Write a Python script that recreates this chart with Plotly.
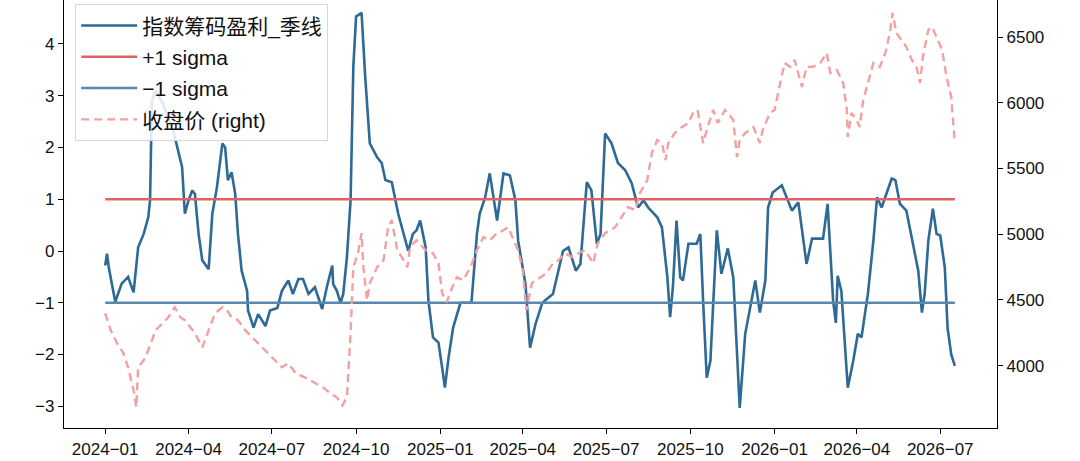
import plotly.graph_objects as go

# 指数筹码盈利_季线 (left axis)
profit_dates = [
    '2024-01-01', '2024-01-03', '2024-01-05', '2024-01-12', '2024-01-19', '2024-01-26',
    '2024-02-01', '2024-02-06', '2024-02-12', '2024-02-17', '2024-02-19', '2024-02-21',
    '2024-02-25', '2024-02-27', '2024-03-04', '2024-03-15', '2024-03-25', '2024-03-28',
    '2024-04-01', '2024-04-05', '2024-04-08', '2024-04-12', '2024-04-16', '2024-04-23',
    '2024-04-27', '2024-05-02', '2024-05-08', '2024-05-11', '2024-05-14', '2024-05-18',
    '2024-05-22', '2024-05-25', '2024-05-29', '2024-06-04', '2024-06-05', '2024-06-11',
    '2024-06-16', '2024-06-24', '2024-06-29', '2024-07-07', '2024-07-12', '2024-07-19',
    '2024-07-24', '2024-07-30', '2024-08-04', '2024-08-10', '2024-08-17', '2024-08-25',
    '2024-08-30', '2024-09-05', '2024-09-06', '2024-09-10', '2024-09-14', '2024-09-17',
    '2024-09-21', '2024-09-25', '2024-09-28', '2024-10-01', '2024-10-07', '2024-10-11',
    '2024-10-16', '2024-10-24', '2024-10-29', '2024-11-02', '2024-11-09', '2024-11-16',
    '2024-11-27', '2024-12-02', '2024-12-06', '2024-12-10', '2024-12-16', '2024-12-19',
    '2024-12-24', '2024-12-30', '2025-01-03', '2025-01-06', '2025-01-10', '2025-01-15',
    '2025-01-23', '2025-02-04', '2025-02-10', '2025-02-13', '2025-02-19', '2025-02-24',
    '2025-03-04', '2025-03-11', '2025-03-18', '2025-03-24', '2025-03-27', '2025-04-04',
    '2025-04-09', '2025-04-15', '2025-04-22', '2025-04-25', '2025-05-04', '2025-05-10',
    '2025-05-15', '2025-05-21', '2025-05-29', '2025-06-03', '2025-06-10', '2025-06-15',
    '2025-06-21', '2025-06-25', '2025-06-30', '2025-07-07', '2025-07-14', '2025-07-22',
    '2025-07-29', '2025-08-05', '2025-08-11', '2025-08-16', '2025-08-26', '2025-08-31',
    '2025-09-06', '2025-09-09', '2025-09-12', '2025-09-16', '2025-09-20', '2025-09-23',
    '2025-09-29', '2025-10-08', '2025-10-12', '2025-10-15', '2025-10-19', '2025-10-23',
    '2025-10-30', '2025-11-04', '2025-11-11', '2025-11-17', '2025-11-24', '2025-11-30',
    '2025-12-05', '2025-12-11', '2025-12-16', '2025-12-22', '2025-12-25', '2025-12-30',
    '2026-01-09', '2026-01-14', '2026-01-20', '2026-01-27', '2026-02-05', '2026-02-11',
    '2026-02-23', '2026-02-28', '2026-03-06', '2026-03-09', '2026-03-11', '2026-03-15',
    '2026-03-22', '2026-03-28', '2026-04-02', '2026-04-06', '2026-04-13', '2026-04-19',
    '2026-04-23', '2026-04-28', '2026-05-03', '2026-05-09', '2026-05-13', '2026-05-18',
    '2026-05-25', '2026-06-03', '2026-06-07', '2026-06-11', '2026-06-14', '2026-06-18',
    '2026-06-23', '2026-06-27', '2026-07-01', '2026-07-06', '2026-07-09', '2026-07-13',
    '2026-07-17',
]
profit_values = [
    -0.28, -0.05, -0.33, -0.98, -0.63, -0.5,
    -0.8, 0.07, 0.33, 0.65, 0.98, 2.9,
    3.1, 3.05, 2.85, 2.35, 1.62, 0.72,
    0.98, 1.17, 1.1, 0.33, -0.18, -0.35,
    0.72, 1.23, 2.08, 2.0, 1.37, 1.52,
    1.1, 0.33, -0.38, -0.77, -1.15, -1.48,
    -1.22, -1.45, -1.15, -1.1, -0.77, -0.57,
    -0.83, -0.54, -0.54, -0.83, -0.7, -1.12,
    -0.7, -0.28, -0.64, -0.77, -1.0, -0.83,
    -0.12, 0.98, 3.56, 4.53, 4.6, 3.36,
    2.08, 1.81, 1.7, 1.37, 1.33, 0.72,
    0.0, 0.33, 0.4, 0.59, 0.07, -0.96,
    -1.67, -1.77, -2.25, -2.64, -2.06, -1.48,
    -1.0, -1.0, 0.33, 0.72, 1.04, 1.5,
    0.59, 1.5, 1.46, 0.98, 0.2, -0.64,
    -1.87, -1.41, -1.02, -0.96, -0.83, -0.38,
    0.0, 0.07, -0.38, -0.25, 1.33, 1.17,
    0.14, 0.33, 2.27, 2.08, 1.7, 1.56,
    1.31, 0.84, 0.98, 0.84, 0.65, 0.46,
    -0.51, -1.28, -0.7, 0.59, -0.51, -0.57,
    0.14, 0.14, 0.33, -0.96, -2.45, -2.12,
    0.4, -0.44, 0.05, -0.51, -3.03, -1.6,
    -1.15, -0.57, -1.19, -0.57, 0.84, 1.13,
    1.27, 1.04, 0.78, 0.94, -0.25, 0.24,
    0.24, 0.91, -0.96, -1.39, -0.48, -0.77,
    -2.64, -2.12, -1.6, -1.67, -0.83, 0.2,
    1.04, 0.84, 1.08, 1.4, 1.37, 0.91,
    0.78, -0.05, -0.38, -1.19, -0.83, 0.2,
    0.82, 0.33, 0.3, -0.32, -1.48, -2.0,
    -2.22,
]

# 收盘价 (right axis)
close_dates = [
    '2024-01-01', '2024-01-07', '2024-01-14', '2024-01-21', '2024-01-26', '2024-02-01',
    '2024-02-04', '2024-02-06', '2024-02-12', '2024-02-17', '2024-02-25', '2024-03-03',
    '2024-03-10', '2024-03-17', '2024-03-23', '2024-03-28', '2024-04-03', '2024-04-08',
    '2024-04-16', '2024-04-23', '2024-04-30', '2024-05-08', '2024-05-13', '2024-05-18',
    '2024-05-25', '2024-06-02', '2024-06-13', '2024-06-24', '2024-07-05', '2024-07-12',
    '2024-07-19', '2024-07-27', '2024-08-06', '2024-08-17', '2024-08-26', '2024-09-03',
    '2024-09-10', '2024-09-16', '2024-09-21', '2024-09-25', '2024-09-28', '2024-10-03',
    '2024-10-07', '2024-10-09', '2024-10-13', '2024-10-16', '2024-10-24', '2024-10-31',
    '2024-11-05', '2024-11-09', '2024-11-15', '2024-11-20', '2024-11-26', '2024-11-29',
    '2024-12-06', '2024-12-16', '2024-12-24', '2024-12-30', '2025-01-03', '2025-01-08',
    '2025-01-14', '2025-01-19', '2025-01-26', '2025-02-03', '2025-02-10', '2025-02-17',
    '2025-02-24', '2025-03-04', '2025-03-11', '2025-03-16', '2025-03-22', '2025-03-27',
    '2025-04-01', '2025-04-05', '2025-04-11', '2025-04-20', '2025-04-27', '2025-05-04',
    '2025-05-10', '2025-05-17', '2025-05-25', '2025-06-01', '2025-06-08', '2025-06-17',
    '2025-06-22', '2025-06-30', '2025-07-11', '2025-07-18', '2025-07-25', '2025-08-02',
    '2025-08-07', '2025-08-15', '2025-08-20', '2025-08-26', '2025-08-31', '2025-09-04',
    '2025-09-07', '2025-09-14', '2025-09-22', '2025-09-29', '2025-10-04', '2025-10-09',
    '2025-10-15', '2025-10-20', '2025-10-26', '2025-10-31', '2025-11-08', '2025-11-17',
    '2025-11-21', '2025-11-24', '2025-11-30', '2025-12-09', '2025-12-16', '2025-12-19',
    '2025-12-27', '2026-01-01', '2026-01-07', '2026-01-12', '2026-01-18', '2026-01-23',
    '2026-01-31', '2026-02-05', '2026-02-12', '2026-02-20', '2026-02-27', '2026-03-03',
    '2026-03-10', '2026-03-17', '2026-03-21', '2026-03-22', '2026-03-26', '2026-04-01',
    '2026-04-04', '2026-04-08', '2026-04-13', '2026-04-19', '2026-04-26', '2026-05-02',
    '2026-05-07', '2026-05-10', '2026-05-14', '2026-05-20', '2026-05-25', '2026-05-31',
    '2026-06-05', '2026-06-09', '2026-06-12', '2026-06-18', '2026-06-22', '2026-06-27',
    '2026-07-03', '2026-07-08', '2026-07-13', '2026-07-17',
]
close_values = [
    4398, 4268, 4169, 4093, 3987, 3811,
    3682, 3987, 4040, 4116, 4268, 4322,
    4368, 4444, 4368, 4345, 4291, 4246,
    4139, 4268, 4398, 4444, 4421, 4368,
    4345, 4268, 4192, 4116, 4040, 3987,
    4017, 3941, 3910, 3865, 3834, 3788,
    3758, 3697, 3758, 4246, 4749, 4855,
    5008, 4749, 4497, 4627, 4749, 4802,
    5053, 5107, 4878, 4825, 4749, 4901,
    4954, 4878, 4855, 4779, 4550, 4482,
    4596, 4672, 4650, 4749, 4878, 4977,
    4954, 5008, 5030, 5053, 4954, 4878,
    4726, 4421, 4627, 4672, 4703, 4779,
    4802, 4855, 4825, 4855, 4878, 4779,
    4931, 5008, 5053, 5130, 5206, 5183,
    5312, 5411, 5617, 5716, 5693, 5564,
    5693, 5770, 5815, 5846, 5922, 5945,
    5693, 5815, 5945, 5846, 5945, 5869,
    5587, 5716, 5770, 5815, 5693, 5792,
    5922, 5945, 6151, 6303, 6273, 6326,
    6120, 6273, 6273, 6303, 6379, 6227,
    6250, 6151, 5945, 5739, 5922, 5869,
    5815, 6021, 6151, 6303, 6273, 6379,
    6532, 6684, 6532, 6478, 6425, 6326,
    6273, 6151, 6349, 6555, 6578, 6501,
    6402, 6196, 6044, 5693,
]

sigma_dates = ['2024-01-01', '2026-07-17']
plus_sigma = [1, 1]
minus_sigma = [-1, -1]

FONT = 'Liberation Sans, Arial, Noto Sans CJK SC, sans-serif'
tick_font = dict(size=17, color='#111')

fig = go.Figure()
fig.add_trace(go.Scatter(x=profit_dates, y=profit_values, mode='lines',
                         name='指数筹码盈利_季线', legendgroup='a',
                         line=dict(color='#2d6a95', width=2.6)))
fig.add_trace(go.Scatter(x=sigma_dates, y=plus_sigma, mode='lines',
                         name='+1 sigma', legendgroup='b',
                         line=dict(color='#e06262', width=2.4)))
fig.add_trace(go.Scatter(x=sigma_dates, y=minus_sigma, mode='lines',
                         name='\u22121 sigma', legendgroup='c',
                         line=dict(color='#5a88ad', width=2.4)))
fig.add_trace(go.Scatter(x=close_dates, y=close_values, mode='lines', yaxis='y2',
                         name='收盘价 (right)', legendgroup='d',
                         line=dict(color='#f4a0a0', width=2.4, dash='8px,5px')))

fig.update_layout(
    width=1080, height=461,
    margin=dict(l=64, r=83, t=0, b=33),
    paper_bgcolor='white', plot_bgcolor='white',
    font=dict(family=FONT, size=16, color='#222'),
    showlegend=True,
    legend=dict(x=0.012, y=0.99, xanchor='left', yanchor='top',
                bgcolor='rgba(255,255,255,0.85)', bordercolor='#d8d8d8', borderwidth=1,
                font=dict(size=21, color='#111'), itemwidth=56, tracegroupgap=1,
                traceorder='grouped'),
    xaxis=dict(range=['2023-11-17', '2026-09-01'], type='date',
               tickvals=['2024-01-01', '2024-04-01', '2024-07-01', '2024-10-01',
                         '2025-01-01', '2025-04-01', '2025-07-01', '2025-10-01',
                         '2026-01-01', '2026-04-01', '2026-07-01'],
               tickformat='%Y\u2212%m', showgrid=False, zeroline=False,
               showline=True, linecolor='black', linewidth=1.2,
               ticks='outside', ticklen=5, tickcolor='black', tickfont=tick_font),
    yaxis=dict(range=[-3.42, 4.85], tickvals=[-3, -2, -1, 0, 1, 2, 3, 4],
               showgrid=False, zeroline=False,
               showline=True, linecolor='black', linewidth=1.2,
               ticks='outside', ticklen=5, tickcolor='black', tickfont=tick_font),
    yaxis2=dict(range=[3525, 6782], overlaying='y', side='right',
                tickvals=[4000, 4500, 5000, 5500, 6000, 6500],
                showgrid=False, zeroline=False,
                showline=True, linecolor='black', linewidth=1.2,
                ticks='outside', ticklen=5, tickcolor='black', tickfont=tick_font),
)

fig.write_html('out.html', config={'displayModeBar': False},
               post_script="document.body.style.margin='0';")
